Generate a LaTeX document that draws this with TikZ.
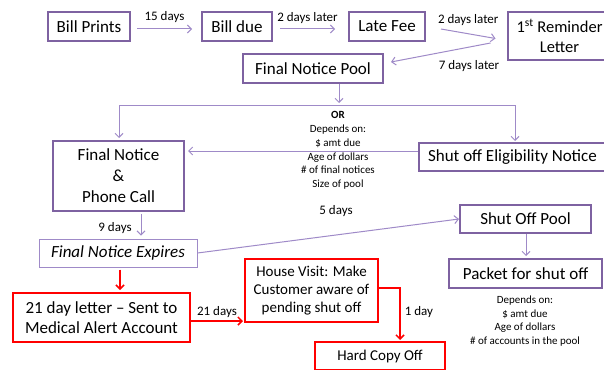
\documentclass[tikz,border=0pt]{standalone}
\usepackage{fontspec}
\setmainfont{Carlito}
\usetikzlibrary{arrows.meta}
\definecolor{pbox}{HTML}{7E62A1}
\definecolor{pline}{HTML}{9F8AC8}
\definecolor{rd}{HTML}{FF0000}
\tikzset{
  box/.style={draw=pbox, line width=2pt, fill=white, inner sep=0pt, align=center, font=\fontsize{17}{21}\selectfont},
  thinbox/.style={draw=pline, line width=1pt, fill=white, inner sep=0pt, align=center, font=\fontsize{17}{21}\selectfont\itshape},
  rbox/.style={draw=rd, line width=2pt, fill=white, inner sep=0pt, align=center, font=\fontsize{17}{20}\selectfont},
  lbl/.style={inner sep=0pt, font=\fontsize{13}{15}\selectfont},
  small/.style={inner sep=0pt, align=center, font=\fontsize{11}{13.7}\selectfont},
  arr/.style={draw=pline, line width=1pt, -{Straight Barb[length=4pt,width=8pt]}},
  ln/.style={draw=pline, line width=1pt},
  rarr/.style={draw=rd, line width=1.5pt, -{Straight Barb[length=4pt,width=8pt]}},
}
\begin{document}
\begin{tikzpicture}[x=1pt,y=-1pt]
\path[use as bounding box, clip] (0,0) rectangle (604,369);
\fill[white] (0,0) rectangle (604,369);
% nodes
\node[box, minimum width=82pt, minimum height=29pt] (bp) at (89,26.5) {Bill Prints};
\node[box, minimum width=70pt, minimum height=29pt] (bd) at (237,26.5) {Bill due};
\node[box, minimum width=76pt, minimum height=29pt] (lf) at (387,26.5) {Late Fee};
\node[box, minimum width=104pt, minimum height=48pt, font=\fontsize{16.5}{20}\selectfont] (rem) at (559.5,36) {1\textsuperscript{st} Reminder\\Letter};
\node[box, minimum width=140pt, minimum height=29pt] (fnp) at (313,68.5) {Final Notice Pool};
\node[box, minimum width=131pt, minimum height=70pt] (fn) at (118.5,176) {Final Notice\\\&\\Phone Call};
\node[box, minimum width=187pt, minimum height=28pt] (sen) at (512.5,157) {Shut off Eligibility Notice};
\node[thinbox, minimum width=158pt, minimum height=28pt] (fne) at (118,253) {Final Notice Expires};
\node[box, minimum width=131pt, minimum height=28pt] (sop) at (525.5,219) {Shut Off Pool};
\node[box, minimum width=153pt, minimum height=29pt] (pk) at (525.5,273.5) {Packet for shut off};
\node[rbox, minimum width=177pt, minimum height=49pt] (dl) at (101.5,317.5) {21 day letter -- Sent to\\Medical Alert Account};
\node[rbox, minimum width=133pt, minimum height=63pt, font=\fontsize{15}{18}\selectfont] (hv) at (311.5,290.5) {House Visit: Make\\Customer aware of\\pending shut off};
\node[rbox, minimum width=130pt, minimum height=28pt, font=\fontsize{15}{18}\selectfont] (hc) at (380,356) {Hard Copy Off};
% texts
\node[small] (dep1) at (338,150.5) {\textbf{OR}\\Depends on:\\\$ amt due\\Age of dollars\\\# of final notices\\Size of pool};
\node[small, font=\fontsize{11}{13.4}\selectfont] (dep2) at (525,321) {Depends on:\\\$ amt due\\Age of dollars\\\# of accounts in the pool};
% top row connectors
\draw[arr] ([xshift=6pt,yshift=-2.5pt]bp.east) -- node[lbl, above=6pt] (l15) {15 days} ([xshift=-9pt,yshift=-2.5pt]bd.west);
\draw[arr] ([xshift=7pt,yshift=-2.5pt]bd.east) -- ([xshift=-13pt,yshift=-2.5pt]lf.west) node[lbl, pos=0.5, above=5pt] (l2a) {2 days later};
\draw[arr] ([xshift=15pt,yshift=-2.5pt]lf.east) -- node[lbl, above=8pt] (l2b) {2 days later} ([xshift=-11pt,yshift=-2.5pt]rem.west);
\draw[arr] ([xshift=-16pt,yshift=-7pt]rem.west) -- ([xshift=7pt,yshift=6.5pt]fnp.east);
\node[lbl] (l7) at (469,66) {7 days later};
% split
\coordinate (jn) at (339,105);
\coordinate (jl) at (119,105);
\coordinate (jr) at (515,105);
\draw[arr] (fnp.south -| jn) -- ([yshift=2pt]jn);
\draw[ln] (jl) -- (jr);
\draw[arr] (jl) -- ([yshift=2pt]fn.north -| jl);
\draw[arr] (jr) -- ([yshift=1pt]sen.north -| jr);
\draw[arr] ([yshift=6pt]sen.west) -- ([xshift=3pt,yshift=25pt]fn.east);
% lower
\coordinate (f9) at (141,0);
\draw[arr] ([yshift=-2pt]fn.south -| f9) -- ([yshift=3pt]fne.north -| f9);
\node[lbl] (l9) at (115,228) {9 days};
\draw[arr] (fne.east) -- ([yshift=0pt]sop.west);
\node[lbl] (l5) at (336,211) {5 days};
\draw[arr] ([xshift=0.5pt]sop.south) -- ([xshift=0.5pt,yshift=2pt]pk.north);
\coordinate (fr) at (120,0);
\draw[rarr] ([yshift=-2pt]fne.south -| fr) -- ([yshift=2pt]dl.north -| fr);
\draw[rarr] ([yshift=-3.5pt]dl.east) -- node[lbl, above=3pt] (l21) {21 days} ([xshift=-1pt,yshift=-3.5pt]dl.east -| hv.west);
\coordinate (hvr) at (400,288);
\draw[rarr] (hv.east |- hvr) -- (hvr) -- ([yshift=1pt]hc.north -| hvr);
\node[lbl] (l1) at (419,312) {1 day};
\end{tikzpicture}
\end{document}
